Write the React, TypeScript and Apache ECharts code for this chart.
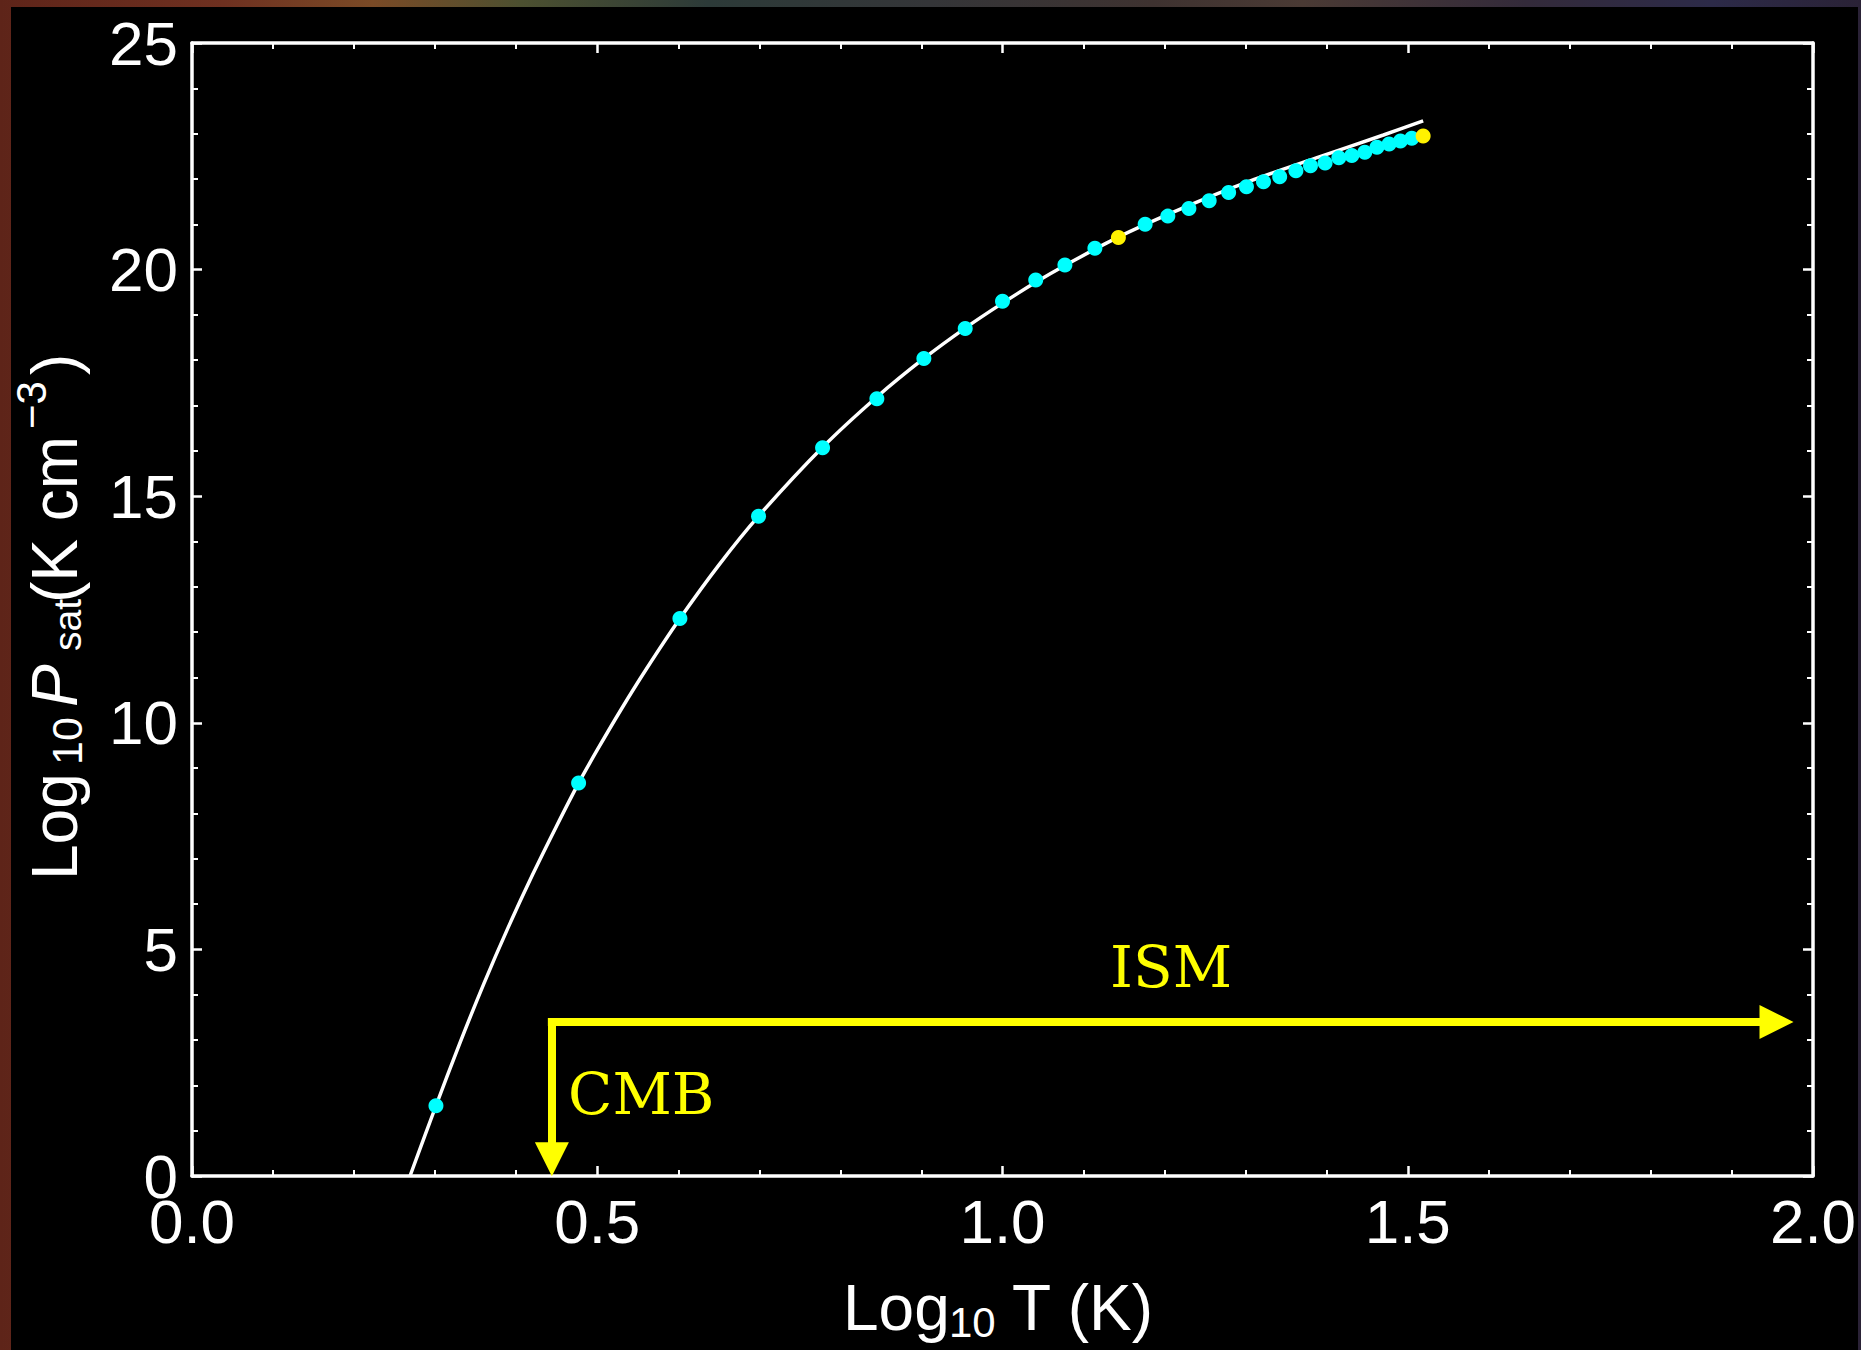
import React, { useEffect, useRef } from "react";
import * as echarts from "echarts";

// ---- data ----
const xTickValues = [0.0, 0.5, 1.0, 1.5, 2.0];
const yTickValues = [0, 5, 10, 15, 20, 25];

// white curve (Log10 T, Log10 Psat)
const curveX = [0.269, 0.301, 0.33, 0.36, 0.39, 0.42, 0.45, 0.477, 0.5, 0.53, 0.56, 0.602, 0.65, 0.699, 0.778, 0.845, 0.903, 0.954, 1.0, 1.041, 1.077, 1.141, 1.223, 1.305, 1.388, 1.47, 1.519];
const curveY = [0.0, 1.55, 2.91, 4.24, 5.48, 6.64, 7.73, 8.67, 9.4, 10.31, 11.17, 12.3, 13.48, 14.56, 16.08, 17.19, 18.04, 18.71, 19.26, 19.72, 20.09, 20.7, 21.36, 21.95, 22.47, 22.97, 23.28];

// cyan points
const cyanX = [0.301, 0.477, 0.602, 0.699, 0.778, 0.845, 0.903, 0.954, 1.0, 1.041, 1.077, 1.114, 1.176, 1.204, 1.23, 1.255, 1.279, 1.301, 1.322, 1.342, 1.362, 1.38, 1.398, 1.415, 1.431, 1.447, 1.462, 1.477, 1.491, 1.505];
const cyanY = [1.55, 8.67, 12.3, 14.56, 16.07, 17.15, 18.04, 18.7, 19.3, 19.77, 20.1, 20.47, 21.0, 21.18, 21.35, 21.52, 21.7, 21.83, 21.94, 22.05, 22.18, 22.29, 22.35, 22.47, 22.52, 22.59, 22.7, 22.77, 22.84, 22.9];

// yellow points
const yellowX = [1.143, 1.519];
const yellowY = [20.71, 22.95];

// arrows (CMB / ISM)
const cmbX = 0.444;
const ismY = 3.4;
const ismHeadX = 1.955; // centre of right arrowhead
const cmbHeadY = 0.37; // centre of down arrowhead
const annotationLabels = ["ISM", "CMB"];

const SANS = '"Liberation Sans", Arial, Helvetica, sans-serif';
const SERIF = '"DejaVu Serif", "Liberation Serif", serif';

function txt(text: string, x: number, y: number, size: number, extra: any = {}) {
  return {
    type: "text",
    x,
    y,
    silent: true,
    z: 100,
    style: {
      text,
      fill: "#ffffff",
      fontSize: size,
      lineHeight: size,
      fontFamily: SANS,
      align: "left",
      verticalAlign: "middle",
      textAlign: "left",
      textVerticalAlign: "middle",
      ...extra,
    },
  };
}

export default function App() {
  const ref = useRef<HTMLDivElement>(null);

  useEffect(() => {
    if (!ref.current) return;
    const chart = echarts.init(ref.current, undefined, { renderer: "svg" });

    const axisCommon = {
      type: "value",
      axisLine: { show: true, onZero: false, lineStyle: { color: "#ffffff", width: 3.5 } },
      axisTick: { show: true, inside: true, length: 10, lineStyle: { color: "#ffffff", width: 2.5 } },
      minorTick: { show: true, splitNumber: 5, length: 6, lineStyle: { color: "#ffffff", width: 2 } },
      splitLine: { show: false },
      minorSplitLine: { show: false },
    };

    const option: any = {
      animation: false,
      backgroundColor: "transparent",
      grid: { left: 192, top: 43, width: 1621, height: 1133, containLabel: false },
      xAxis: [
        {
          ...axisCommon,
          position: "bottom",
          min: xTickValues[0],
          max: xTickValues[xTickValues.length - 1],
          interval: 0.5,
          axisLabel: {
            show: true,
            color: "#ffffff",
            fontSize: 62,
            fontFamily: SANS,
            margin: 14,
            formatter: (v: number) => v.toFixed(1),
          },
        },
        {
          ...axisCommon,
          position: "top",
          min: xTickValues[0],
          max: xTickValues[xTickValues.length - 1],
          interval: 0.5,
          axisLabel: { show: false },
        },
      ],
      yAxis: [
        {
          ...axisCommon,
          position: "left",
          min: yTickValues[0],
          max: yTickValues[yTickValues.length - 1],
          interval: 5,
          axisLabel: {
            show: true,
            color: "#ffffff",
            fontSize: 62,
            fontFamily: SANS,
            margin: 14,
          },
        },
        {
          ...axisCommon,
          position: "right",
          min: yTickValues[0],
          max: yTickValues[yTickValues.length - 1],
          interval: 5,
          axisLabel: { show: false },
        },
      ],
      series: [
        {
          type: "line",
          name: "curve",
          data: curveX.map((x, i) => [x, curveY[i]]),
          smooth: 0.3,
          showSymbol: false,
          symbol: "none",
          silent: true,
          lineStyle: { color: "#ffffff", width: 3.5 },
          z: 2,
        },
        {
          type: "scatter",
          name: "cyan",
          data: cyanX.map((x, i) => [x, cyanY[i]]),
          symbol: "circle",
          symbolSize: 15,
          silent: true,
          itemStyle: { color: "#00ffff", opacity: 1 },
          z: 3,
          markLine: {
            silent: true,
            animation: false,
            symbol: ["none", "triangle"],
            symbolSize: 34,
            label: { show: false },
            emphasis: { disabled: true },
            lineStyle: { color: "#ffff00", width: 8, type: "solid", cap: "square", opacity: 1 },
            data: [
              [{ coord: [cmbX, ismY] }, { coord: [ismHeadX, ismY] }],
              [{ coord: [cmbX, ismY] }, { coord: [cmbX, cmbHeadY] }],
            ],
          },
        },
        {
          type: "scatter",
          name: "yellow",
          data: yellowX.map((x, i) => [x, yellowY[i]]),
          symbol: "circle",
          symbolSize: 15,
          silent: true,
          itemStyle: { color: "#fff200", opacity: 1 },
          z: 4,
        },
      ],
      graphic: [
        // x-axis title: Log10 T (K)
        txt("Log", 843, 1308, 64),
        txt("10", 949, 1322, 42),
        txt("T (K)", 1012, 1308, 64),
        // y-axis title: Log10 Psat(K cm^-3), rotated
        {
          type: "group",
          x: 0,
          y: 876,
          rotation: Math.PI / 2,
          silent: true,
          z: 100,
          children: [
            txt("Log", -4, 55, 64),
            txt("10", 111, 67, 43),
            txt("P", 169, 55, 64, { fontStyle: "italic" }),
            txt("sat", 225, 67, 39),
            txt("(K cm", 273, 55, 64),
            txt("\u22123", 447, 31, 42),
            txt(")", 501, 55, 64),
          ],
        },
        // annotations
        txt(annotationLabels[0], 1110, 967, 58, { fill: "#ffff00", fontFamily: SERIF }),
        txt(annotationLabels[1], 568, 1094, 58, { fill: "#ffff00", fontFamily: SERIF }),
      ],
    };

    chart.setOption(option);
    return () => {
      chart.dispose();
    };
  }, []);

  return (
    <div
      style={{
        position: "fixed",
        left: 0,
        top: 0,
        width: 1861,
        height: 1350,
        overflow: "hidden",
        background:
          "linear-gradient(to right, #5e2419 0%, #6e3020 12%, #7a4a26 20%, #4c5030 28%, #2c3a38 38%, #343538 50%, #3e3230 62%, #4a3a34 70%, #332a3a 82%, #2c2a48 92%, #2a2236 100%)",
      }}
    >
      <div style={{ position: "absolute", left: 11, top: 7, width: 1847, height: 1343, background: "#000" }} />
      <div ref={ref} style={{ position: "absolute", left: 0, top: 0, width: 1861, height: 1350 }} />
    </div>
  );
}
